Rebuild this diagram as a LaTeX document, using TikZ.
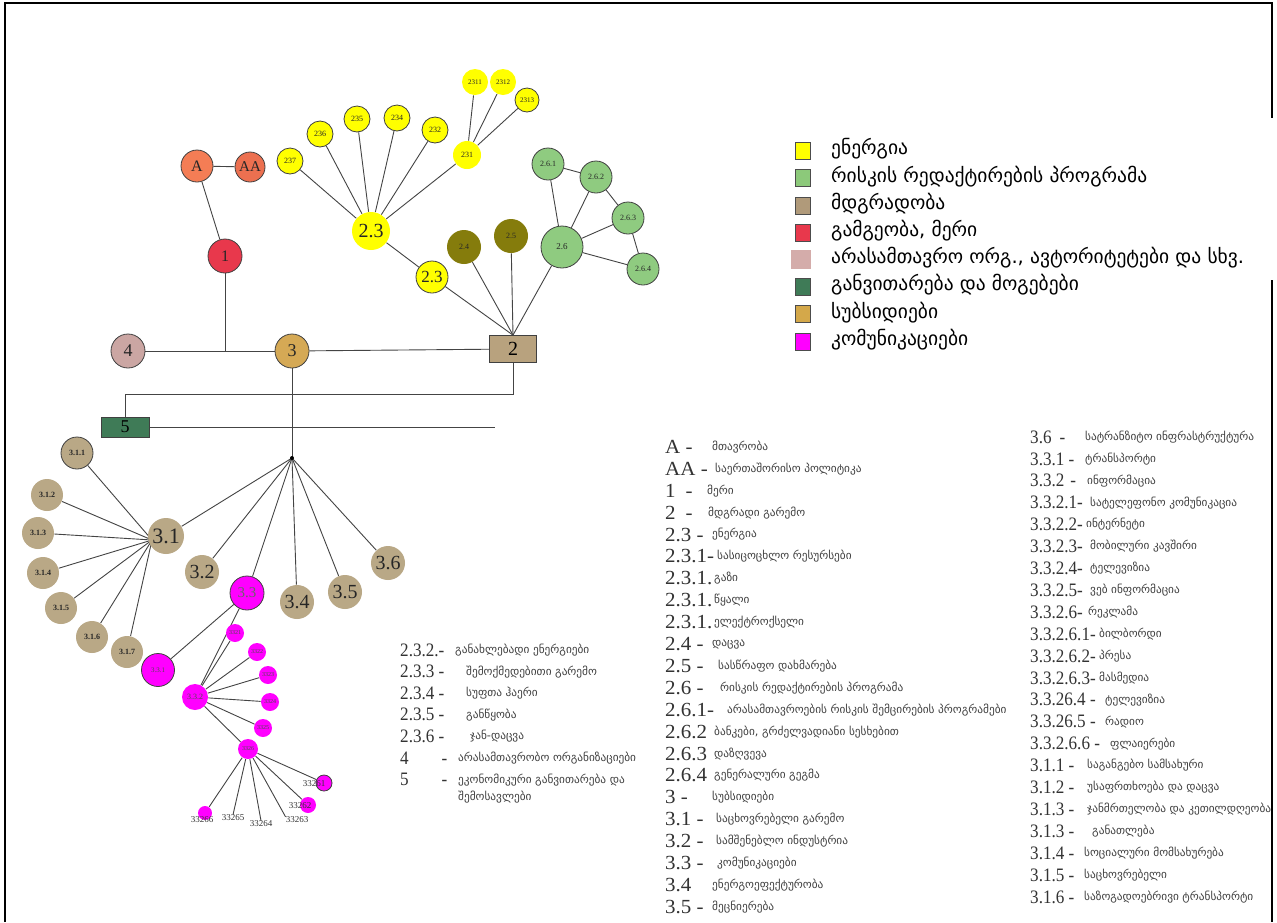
\documentclass[tikz,border=0pt]{standalone}
\usepackage{fontspec}
\setmainfont{Liberation Serif}
\newfontfamily\geo{DejaVu Sans}
\newfontfamily\numA[FakeStretch=1.05]{Liberation Serif}
\newfontfamily\numC[FakeStretch=0.9]{Liberation Serif}
\usetikzlibrary{backgrounds}
\definecolor{cA}{HTML}{F47D55}
\definecolor{cAA}{HTML}{EC7050}
\definecolor{cRed}{HTML}{E8384C}
\definecolor{cPink}{HTML}{CBA6A3}
\definecolor{cGold}{HTML}{D5A955}
\definecolor{cTan}{HTML}{B8A27E}
\definecolor{cDkGreen}{HTML}{3F7B57}
\definecolor{cYel}{HTML}{FFFF00}
\definecolor{cOlive}{HTML}{857C0C}
\definecolor{cGreen}{HTML}{8FCB80}
\definecolor{cSand}{HTML}{B9A886}
\definecolor{cMag}{HTML}{FF00FF}
\definecolor{cLine}{HTML}{444444}
\definecolor{cLegTan}{HTML}{B09A7A}
\definecolor{cLegPink}{HTML}{D4ACAA}
\definecolor{cLegGold}{HTML}{D4A84A}
\definecolor{cLegGreen}{HTML}{8CC97A}
\tikzset{
  link/.style={draw=cLine, line width=0.9pt},
  bub/.style={circle, inner sep=0pt, minimum size=#1, line width=0.8pt, text=black!85},
  ol/.style={draw=black!75},
  fz/.style={font=\fontsize{#1}{#1}\selectfont},
  legsq/.style={draw=black!70, line width=0.6pt, minimum width=15, minimum height=17, inner sep=0pt},
  legtx/.style={anchor=west, inner sep=0pt, font=\geo\fontsize{19.5}{19.5}\selectfont},
  numtx/.style={anchor=west, inner sep=0pt, font=\numA\fontsize{20}{20}\selectfont, text=black!80},
  numtxc/.style={anchor=west, inner sep=0pt, font=\numC\fontsize{19}{19}\selectfont, text=black!80},
  geotx/.style={anchor=west, inner sep=0pt, font=\geo\fontsize{11.3}{11.3}\selectfont, text=black!75},
  frameline/.style={line width=2.6pt, black},
  lbl/.style={inner sep=0pt, font=\fontsize{9}{9}\selectfont, text=black!80},
  mtx/.style={text=black!70},
}
\begin{document}
\begin{tikzpicture}[x=1pt,y=-1pt]
\useasboundingbox (0,0) rectangle (1277,922);
% ---------- top-left governance
\node[bub=32, ol, fill=cA, fz=16] (A) at (197,166) {A};
\node[bub=30, ol, fill=cAA, fz=15] (AA) at (250,167) {AA};
\node[bub=34, ol, fill=cRed, fz=16] (n1) at (225,256) {1};
\node[bub=34, ol, fill=cPink, fz=18] (n4) at (128,351) {4};
\node[bub=34, ol, fill=cGold, fz=18] (n3) at (292,351) {3};
\node[rectangle, ol, fill=cTan, minimum width=47, minimum height=27, inner sep=0pt, line width=0.8pt, fz=20] (n2) at (513,349) {2};
\node[rectangle, ol, fill=cDkGreen, minimum width=48, minimum height=20, inner sep=0pt, line width=0.8pt, fz=18] (n5) at (125,427) {5};
\coordinate (j1) at (225,351);
\coordinate (c2) at (513,394);
\coordinate (e5) at (495,427);
\coordinate (P) at (292,458);
% ---------- energy
\node[bub=38, fill=cYel, fz=20] (e23) at (371,231) {2.3};
\node[bub=32, ol, fill=cYel, fz=17] (e23b) at (432,277) {2.3};
\node[bub=26, ol, fill=cYel, fz=8] (e237) at (290,161) {237};
\node[bub=26, ol, fill=cYel, fz=8] (e236) at (320,134) {236};
\node[bub=26, ol, fill=cYel, fz=8] (e235) at (357,119) {235};
\node[bub=26, ol, fill=cYel, fz=8] (e234) at (397,118) {234};
\node[bub=26, ol, fill=cYel, fz=8] (e232) at (435,130) {232};
\node[bub=28, fill=cYel, fz=8] (e231) at (467,155) {231};
\node[bub=26, fill=cYel, fz=7] (e2311) at (475,82) {2311};
\node[bub=26, fill=cYel, fz=7] (e2312) at (503,82) {2312};
\node[bub=24, ol, fill=cYel, fz=7] (e2313) at (527,100) {2313};
\node[bub=34, fill=cOlive, fz=8] (e24) at (464,247) {2.4};
\node[bub=34, fill=cOlive, fz=8] (e25) at (511,236) {2.5};
% ---------- risk program
\node[bub=42, ol, fill=cGreen, fz=9] (g26) at (562,247) {2.6};
\node[bub=32, ol, fill=cGreen, fz=8] (g261) at (548,164) {2.6.1};
\node[bub=32, ol, fill=cGreen, fz=8] (g262) at (596,177) {2.6.2};
\node[bub=32, ol, fill=cGreen, fz=8] (g263) at (628,218) {2.6.3};
\node[bub=32, ol, fill=cGreen, fz=8] (g264) at (643,269) {2.6.4};
% ---------- subsidies
\node[circle, fill=black, inner sep=0pt, minimum size=4] (Pd) at (P) {};
\node[bub=36, fill=cSand, fz=22] (s31) at (166,536) {3.1};
\node[bub=34, fill=cSand, fz=20] (s32) at (202,572) {3.2};
\node[bub=34, ol, fill=cMag, fz=15, text=black!60] (s33) at (247,593) {3.3};
\node[bub=34, fill=cSand, fz=20] (s34) at (297,602) {3.4};
\node[bub=34, fill=cSand, fz=20] (s35) at (345,592) {3.5};
\node[bub=34, fill=cSand, fz=20] (s36) at (388,563) {3.6};
\coordinate (h31) at (152,540);
\node[bub=32, ol, fill=cSand, font=\bfseries\fontsize{8}{8}\selectfont] (s311) at (77,453) {3.1.1};
\node[bub=32, fill=cSand, font=\bfseries\fontsize{8}{8}\selectfont] (s312) at (47,495) {3.1.2};
\node[bub=32, fill=cSand, font=\bfseries\fontsize{8}{8}\selectfont] (s313) at (38,533) {3.1.3};
\node[bub=32, fill=cSand, font=\bfseries\fontsize{8}{8}\selectfont] (s314) at (43,573) {3.1.4};
\node[bub=32, fill=cSand, font=\bfseries\fontsize{8}{8}\selectfont] (s315) at (61,608) {3.1.5};
\node[bub=32, fill=cSand, font=\bfseries\fontsize{8}{8}\selectfont] (s316) at (92,637) {3.1.6};
\node[bub=32, fill=cSand, font=\bfseries\fontsize{8}{8}\selectfont] (s317) at (127,652) {3.1.7};
% ---------- communications
\node[bub=33, ol, fill=cMag, fz=7, mtx] (m331) at (158,670) {3.3.1};
\node[bub=26, fill=cMag, fz=8, mtx] (m332) at (195,697) {3.3.2};
\node[bub=18, fill=cMag, fz=6, mtx] (m3321) at (235,633) {3321};
\node[bub=18, fill=cMag, fz=6, mtx] (m3322) at (257,652) {3322};
\node[bub=18, fill=cMag, fz=6, mtx] (m3323) at (268,675) {3323};
\node[bub=18, fill=cMag, fz=6, mtx] (m3324) at (270,702) {3324};
\node[bub=18, fill=cMag, fz=6, mtx] (m3325) at (263,728) {3325};
\node[bub=20, fill=cMag, fz=6, mtx] (m3326) at (248,749) {3326};
\node[bub=16, ol, fill=cMag] (c33261) at (324,783) {};
\node[bub=16, fill=cMag] (c33262) at (308,805) {};
\node[bub=14, fill=cMag] (c33266) at (205,813) {};
\node[lbl] (t33261) at (314,784) {33261};
\node[lbl] (t33262) at (300,806) {33262};
\node[lbl] (t33263) at (297,820) {33263};
\node[lbl] (t33264) at (261,824) {33264};
\node[lbl] (t33265) at (233,818) {33265};
\node[lbl] (t33266) at (202,820) {33266};
% ---------- connectors (behind nodes)
\begin{pgfonlayer}{background}
\fill[white] (0,0) rectangle (1277,922);
\draw[link] (A) -- (AA);
\draw[link] (A) -- (n1);
\draw[link] (n1) -- (j1);
\draw[link] (n4) -- (n3);
\draw[link] (n3) -- (n2);
\draw[link] (n2.south) -- (c2) -| (n5.north);
\draw[link] (n5.east) -- (e5);
\draw[link] (n3) -- (P);
\foreach \t in {e237,e236,e235,e234,e232,e231} \draw[link] (e23) -- (\t);
\foreach \t in {e2311,e2312,e2313} \draw[link] (e231) -- (\t);
\draw[link] (e23) -- (e23b);
\foreach \t in {e23b,e24,e25,g26} \draw[link] (\t) -- (n2.north);
\foreach \t in {g261,g262,g263,g264} \draw[link] (g26) -- (\t);
\draw[link] (g261) -- (g262);
\draw[link] (g262) -- (g263);
\draw[link] (g263) -- (g264);
\foreach \t in {s31,s32,s33,s34,s35,s36} \draw[link] (P) -- (\t);
\foreach \t in {s311,s312,s313,s314,s315,s316,s317} \draw[link] (\t) -- (h31);
\draw[link] (s33) -- (m331);
\draw[link] (s33) -- (m332);
\foreach \t in {m3321,m3322,m3323,m3324,m3325,m3326} \draw[link] (m332) -- (\t);
\draw[link] (m3326) -- (c33261);
\draw[link] (m3326) -- (c33262);
\draw[link] (m3326) -- (t33263.north west);
\draw[link] (m3326) -- (t33264.north);
\draw[link] (m3326) -- (t33265.north);
\draw[link] (m3326) -- (c33266);
\end{pgfonlayer}
% ---------- frame
\draw[frameline] (5,922) -- (5,3) -- (1272,3) -- (1272,118);
\draw[frameline] (1272,280) -- (1272,922);
% ---------- legend
\foreach \i/\col/\txt in {0/cYel/{ენერგია},1/cLegGreen/{რისკის რედაქტირების პროგრამა},2/cLegTan/{მდგრადობა},3/cRed/{გამგეობა, მერი},5/cDkGreen/{განვითარება და მოგებები},6/cLegGold/{სუბსიდიები},7/cMag/{კომუნიკაციები}}{
  \node[legsq, fill=\col] (lq\i) at (803,{151+27.2*\i}) {};
  \node[legtx] (lt\i) at (831,{149+27.2*\i}) {\txt};
}
\node[inner sep=0pt, minimum width=20, minimum height=19, fill=cLegPink] (lq4) at (801,{151+27.2*4}) {};
\node[legtx] (lt4) at (831,{149+27.2*4}) {არასამთავრო ორგ., ავტორიტეტები და სხვ.};
% ---------- column 2
\foreach \i/\num/\tx/\txt in {0/{2.3.2.-}/455/{განახლებადი ენერგიები},1/{2.3.3 -}/466/{შემოქმედებითი გარემო},2/{2.3.4 -}/466/{სუფთა ჰაერი},3/{2.3.5 -}/466/{განწყობა},4/{2.3.6 -}/470/{ჯან-დაცვა},5/{4\hspace{33pt}-}/458/{არასამთავრობო ორგანიზაციები},6/{5\hspace{33pt}-}/458/{ეკონომიკური განვითარება და}}{
  \node[numtxc] (bn\i) at (400,{650+21.6*\i}) {\num};
  \node[geotx] (bt\i) at (\tx,{650+21.6*\i}) {\txt};
}
\node[geotx] (bt7) at (458,{650+21.6*6+17}) {შემოსავლები};
% ---------- column 1
\foreach \i/\num/\tx/\txt in {
0/{A -}/712/{მთავრობა},
1/{AA -}/715/{საერთაშორისო პოლიტიკა},
2/{1\hspace{10pt}-}/707/{მერი},
3/{2\hspace{10pt}-}/708/{მდგრადი გარემო},
4/{2.3 -}/712/{ენერგია},
5/{2.3.1-}/717/{სასიცოცხლო რესურსები},
6/{2.3.1.}/714/{გაზი},
7/{2.3.1.}/714/{წყალი},
8/{2.3.1.}/714/{ელექტროქსელი},
9/{2.4 -}/712/{დაცვა},
10/{2.5 -}/718/{სასწრაფო დახმარება},
11/{2.6 -}/720/{რისკის რედაქტირების პროგრამა},
12/{2.6.1-}/727/{არასამთავროების რისკის შემცირების პროგრამები},
13/{2.6.2}/714/{ბანკები, გრძელვადიანი სესხებით},
14/{2.6.3}/714/{დაზღვევა},
15/{2.6.4}/714/{გენერალური გეგმა},
16/{3 -}/712/{სუბსიდიები},
17/{3.1 -}/716/{საცხოვრებელი გარემო},
18/{3.2 -}/716/{სამშენებლო ინდუსტრია},
19/{3.3 -}/717/{კომუნიკაციები},
20/{3.4}/712/{ენერგოეფექტურობა},
21/{3.5 -}/712/{მეცნიერება}}{
  \node[numtx] (an\i) at (665,{447+21.9*\i}) {\num};
  \node[geotx] (at\i) at (\tx,{447+21.9*\i}) {\txt};
}
% ---------- column 3 (clipped at the frame)
\begin{scope}
\clip (1000,420) rectangle (1270,922);
\foreach \i/\num/\tx/\txt in {
0/{3.6\hspace{8pt}-}/1085/{სატრანზიტო ინფრასტრუქტურა},
1/{3.3.1 -}/1085/{ტრანსპორტი},
2/{3.3.2\hspace{6pt}-}/1087/{ინფორმაცია},
3/{3.3.2.1-}/1090/{სატელეფონო კომუნიკაცია},
4/{3.3.2.2-}/1086/{ინტერნეტი},
5/{3.3.2.3-}/1090/{მობილური კავშირი},
6/{3.3.2.4-}/1090/{ტელევიზია},
7/{3.3.2.5-}/1090/{ვებ ინფორმაცია},
8/{3.3.2.6-}/1088/{რეკლამა},
9/{3.3.2.6.1-}/1099/{ბილბორდი},
10/{3.3.2.6.2-}/1099/{პრესა},
11/{3.3.2.6.3-}/1099/{მასმედია},
12/{3.3.26.4 -}/1105/{ტელევიზია},
13/{3.3.26.5 -}/1105/{რადიო},
14/{3.3.2.6.6 -}/1110/{ფლაიერები},
15/{3.1.1 -}/1087/{საგანგებო სამსახური},
16/{3.1.2 -}/1087/{უსაფრთხოება და დაცვა},
17/{3.1.3 -}/1087/{ჯანმრთელობა და კეთილდღეობა},
18/{3.1.3 -}/1092/{განათლება},
19/{3.1.4 -}/1084/{სოციალური მომსახურება},
20/{3.1.5 -}/1084/{საცხოვრებელი},
21/{3.1.6 -}/1084/{საზოგადოებრივი ტრანსპორტი}}{
  \node[numtxc] (cn\i) at (1030,{437+21.9*\i}) {\num};
  \node[geotx] (ct\i) at (\tx,{437+21.9*\i}) {\txt};
}
\end{scope}
\end{tikzpicture}
\end{document}
